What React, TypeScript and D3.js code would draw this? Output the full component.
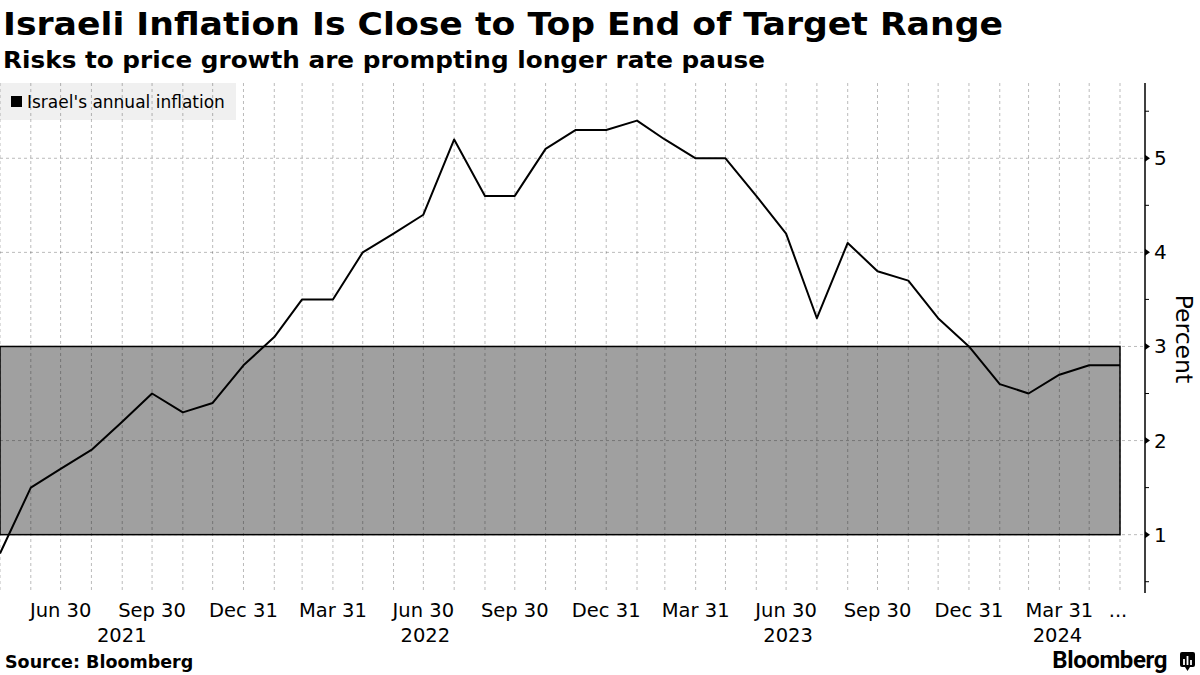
import React from 'react';
import * as d3 from 'd3';

// monthly readings, month-end dates
const months = [
  '2021-04', '2021-05', '2021-06', '2021-07', '2021-08', '2021-09', '2021-10', '2021-11', '2021-12',
  '2022-01', '2022-02', '2022-03', '2022-04', '2022-05', '2022-06', '2022-07', '2022-08', '2022-09',
  '2022-10', '2022-11', '2022-12', '2023-01', '2023-02', '2023-03', '2023-04', '2023-05', '2023-06',
  '2023-07', '2023-08', '2023-09', '2023-10', '2023-11', '2023-12', '2024-01', '2024-02', '2024-03',
  '2024-04', '2024-05',
];
const inflation = [
  0.8, 1.5, 1.7, 1.9, 2.2, 2.5, 2.3, 2.4, 2.8,
  3.1, 3.5, 3.5, 4.0, 4.2, 4.4, 5.2, 4.6, 4.6,
  5.1, 5.3, 5.3, 5.4, 5.2, 5.0, 5.0, 4.6, 4.2,
  3.3, 4.1, 3.8, 3.7, 3.3, 3.0, 2.6, 2.5, 2.7,
  2.8, 2.8,
];
const targetRange = [1, 3];
const yTicks = [1, 2, 3, 4, 5];
const yMinorTicks = [0.5, 1.5, 2.5, 3.5, 4.5, 5.5];
const tickMonths = [
  '2021-06', '2021-09', '2021-12', '2022-03', '2022-06', '2022-09', '2022-12',
  '2023-03', '2023-06', '2023-09', '2023-12', '2024-03',
];
const tickLabels = [
  'Jun 30', 'Sep 30', 'Dec 31', 'Mar 31', 'Jun 30', 'Sep 30', 'Dec 31',
  'Mar 31', 'Jun 30', 'Sep 30', 'Dec 31', 'Mar 31',
];
const years = [2021, 2022, 2023, 2024];

const W = 1200;
const H = 675;
const plotLeft = 0;
const lineRight = 1120;
const axisX = 1145;
const plotTop = 83;
const plotBottom = 593;
const font = 'DejaVu Sans, Verdana, sans-serif';

const monthEnd = (m: string) => {
  const [y, mo] = m.split('-').map(Number);
  return new Date(y, mo, 0);
};

const App = () => {
  const dates = months.map(monthEnd);
  const x = d3.scaleTime().domain([dates[0], dates[dates.length - 1]]).range([plotLeft, lineRight]);
  const y = d3.scaleLinear().domain([0.38, 5.8]).range([plotBottom, plotTop]);

  const line = d3
    .line<number>()
    .x((_, i) => x(dates[i]))
    .y((d) => y(d));

  const grid = 'rgba(0,0,0,0.27)';

  const yearCenter = (yr: number) => {
    const a = Math.max(plotLeft, x(new Date(yr, 0, 1)));
    const b = Math.min(axisX, x(new Date(yr, 11, 31)));
    return (a + b) / 2;
  };

  return (
    <svg width={W} height={H} style={{ position: 'absolute', left: 0, top: 0, background: '#fff' }}>
      {/* titles */}
      <text x={3} y={35} fontFamily={font} fontWeight="bold" fontSize={32} textLength={1000} lengthAdjust="spacingAndGlyphs">
        Israeli Inflation Is Close to Top End of Target Range
      </text>
      <text x={3} y={68} fontFamily={font} fontWeight="bold" fontSize={23} textLength={762} lengthAdjust="spacingAndGlyphs">
        Risks to price growth are prompting longer rate pause
      </text>

      {/* target band */}
      <rect
        x={x(dates[0])}
        y={y(targetRange[1])}
        width={x(dates[dates.length - 1]) - x(dates[0])}
        height={y(targetRange[0]) - y(targetRange[1])}
        fill="#a0a0a0"
        stroke="#000"
        strokeWidth={1.5}
      />

      {/* legend box */}
      <rect x={0} y={plotTop} width={236} height={37} fill="#f0f0f0" />
      <rect x={11} y={96} width={11} height={11} fill="#000" />
      <text x={27} y={108} fontFamily={font} fontSize={17} fill="#000">
        Israel's annual inflation
      </text>

      {/* grid */}
      {dates.map((d, i) => (
        <line key={'v' + i} x1={x(d)} x2={x(d)} y1={plotTop} y2={plotBottom} stroke={grid} strokeDasharray="3,3" />
      ))}
      {yTicks.map((t) => (
        <line key={'h' + t} x1={plotLeft} x2={axisX} y1={y(t)} y2={y(t)} stroke={grid} strokeDasharray="3,3" />
      ))}

      {/* series */}
      <path d={line(inflation) || ''} fill="none" stroke="#000" strokeWidth={2} strokeLinejoin="round" />

      {/* y axis */}
      <line x1={axisX} x2={axisX} y1={plotTop} y2={plotBottom} stroke="#000" strokeWidth={1.5} />
      {yTicks.map((t) => (
        <g key={'yt' + t}>
          <path d={`M${axisX},${y(t) - 3.5}L${axisX + 5},${y(t)}L${axisX},${y(t) + 3.5}Z`} fill="#000" />
          <text x={axisX + 9} y={y(t) + 7} fontFamily={font} fontSize={20} fill="#000">
            {t}
          </text>
        </g>
      ))}
      {yMinorTicks.map((t) => (
        <line key={'ym' + t} x1={axisX} x2={axisX + 4} y1={y(t)} y2={y(t)} stroke="#000" strokeWidth={1} />
      ))}
      <text
        transform={`translate(1176,${y(3.08)}) rotate(90)`}
        textAnchor="middle"
        fontFamily={font}
        fontSize={23.5}
        fill="#000"
      >
        Percent
      </text>

      {/* x axis labels */}
      {tickMonths.map((m, i) => (
        <text key={'xt' + i} x={x(monthEnd(m))} y={617} textAnchor="middle" fontFamily={font} fontSize={19.5} fill="#000">
          {tickLabels[i]}
        </text>
      ))}
      <text x={x(dates[dates.length - 1]) - 2} y={617} textAnchor="middle" fontFamily={font} fontSize={19.5} fill="#000">
        ...
      </text>
      {years.map((yr) => (
        <text key={yr} x={yearCenter(yr)} y={642} textAnchor="middle" fontFamily={font} fontSize={19.5} fill="#000">
          {yr}
        </text>
      ))}

      {/* footer */}
      <text x={5} y={668} fontFamily={font} fontWeight="bold" fontSize={17.5} fill="#000">
        Source: Bloomberg
      </text>
      <text x={1167} y={668} textAnchor="end" fontFamily="Roboto, Inter, sans-serif" fontWeight="bold" fontSize={24} fill="#000" letterSpacing={-0.4}>
        Bloomberg
      </text>
      <rect x={1180} y={652} width={15} height={15} rx={2} fill="#000" />
      <path d="M1184,665V659M1187.5,665V656M1191,665V660" stroke="#fff" strokeWidth={1.8} />
      <path d="M1185,667L1187.5,671L1190,667Z" fill="#000" />
    </svg>
  );
};

export default App;
